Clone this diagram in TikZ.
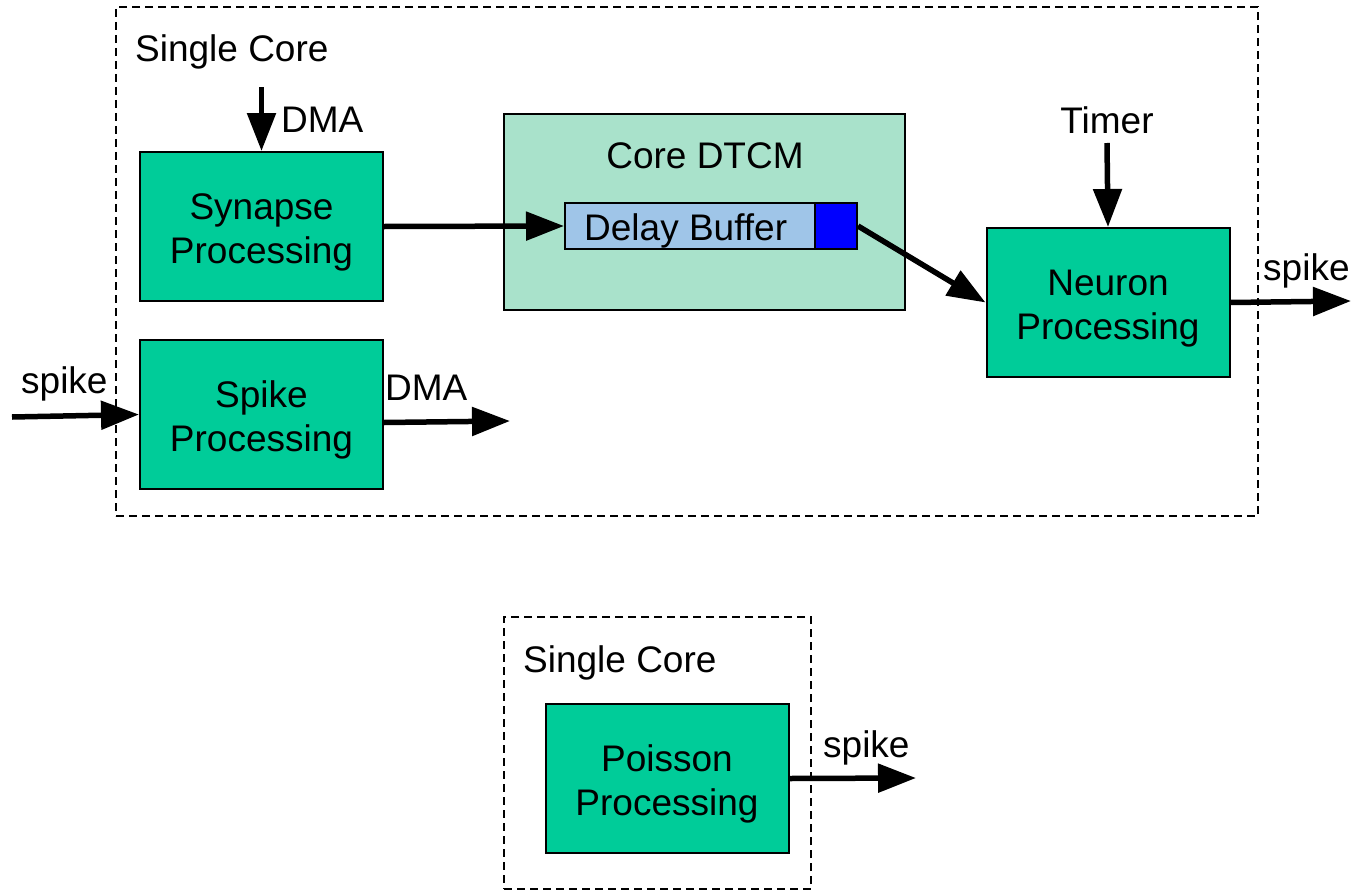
\documentclass[tikz,border=0pt]{standalone}
\usepackage{fontspec}
\setmainfont{Liberation Sans}
\usetikzlibrary{arrows.meta}
\definecolor{procgreen}{HTML}{00CC99}
\definecolor{dtcmgreen}{HTML}{A9E2CB}
\definecolor{bufblue}{HTML}{9FC5E8}
\definecolor{sqblue}{HTML}{0000FF}
\newcommand{\proclines}[1]{\rule{0pt}{38pt}#1\\Processing}
\begin{document}
\begin{tikzpicture}[x=1pt,y=-1pt,
  font=\fontsize{37}{44}\selectfont,
  corebox/.style={draw=black, line width=1.5pt, dash pattern=on 8pt off 5pt},
  procbox/.style={draw=black, line width=2pt, fill=procgreen, minimum width=243pt, minimum height=149pt, align=center, inner sep=0pt},
  lbl/.style={inner sep=0pt},
  flow/.style={line width=5.5pt, -{Triangle[length=38pt,width=28pt]}}
]
\useasboundingbox (0,0) rectangle (1351,891);

% containers
\node[corebox, minimum width=1142pt, minimum height=509pt, inner sep=0pt] (core1) at (687,261.5) {};
\node[corebox, minimum width=307pt, minimum height=272pt, inner sep=0pt] (core2) at (657.5,753) {};
\node[lbl, anchor=base west] (core1lbl) at (135,61) {Single Core};
\node[lbl, anchor=base west] (core2lbl) at (523,672) {Single Core};

% DTCM
\node[draw=black, line width=2pt, fill=dtcmgreen, minimum width=401pt, minimum height=196pt, inner sep=0pt] (dtcm) at (704.5,212) {};
\node[lbl, anchor=base] (dtcmlbl) at (705,168) {Core DTCM};
\node[draw=black, line width=2pt, fill=bufblue, minimum width=292pt, minimum height=46pt, inner sep=0pt] (buf) at (711,226) {};
\node[draw=black, line width=2pt, fill=sqblue, minimum width=42pt, minimum height=46pt, inner sep=0pt] (sq) at (836,226) {};
\node[lbl, anchor=base west] (buflbl) at (584,240) {Delay Buffer};

% processing boxes
\node[procbox] (syn) at (261.5,226.5) {\proclines{Synapse}};
\node[procbox] (spk) at (261.5,414.5) {\proclines{Spike}};
\node[procbox] (neu) at (1108,302.5) {\proclines{Neuron}};
\node[procbox] (poi) at (667,778.5) {\proclines{Poisson}};

% labels
\node[lbl, anchor=base west] (dma1) at (281,132) {DMA};
\node[lbl, anchor=base] (timer) at (1107,133) {Timer};
\node[lbl, anchor=base west] (spkout) at (1263,280) {spike};
\node[lbl, anchor=base west] (spkin) at (21,393) {spike};
\node[lbl, anchor=base west] (dma2) at (385,400) {DMA};
\node[lbl, anchor=base west] (spkpoi) at (823,757) {spike};

% free ends
\coordinate (dmaIn) at (261.5,87);
\coordinate (timerIn) at (1107,143);
\coordinate (spikeInStart) at (12,417);
\coordinate (dmaOutEnd) at (510,421);
\coordinate (neuOutEnd) at (1351,301);
\coordinate (poiOutEnd) at (916,778);

% connectors
\draw[flow] (dmaIn) -- (syn.north);
\draw[flow] (timerIn) -- (neu.north);
\draw[flow] (syn.east) -- (buf.west);
\draw[flow] (sq.east) -- (neu.west);
\draw[flow] (spikeInStart) -- (spk.west);
\draw[flow] ([yshift=-8pt]spk.east) -- (dmaOutEnd);
\draw[flow] (neu.east) -- (neuOutEnd);
\draw[flow] (poi.east) -- (poiOutEnd);
\end{tikzpicture}
\end{document}
